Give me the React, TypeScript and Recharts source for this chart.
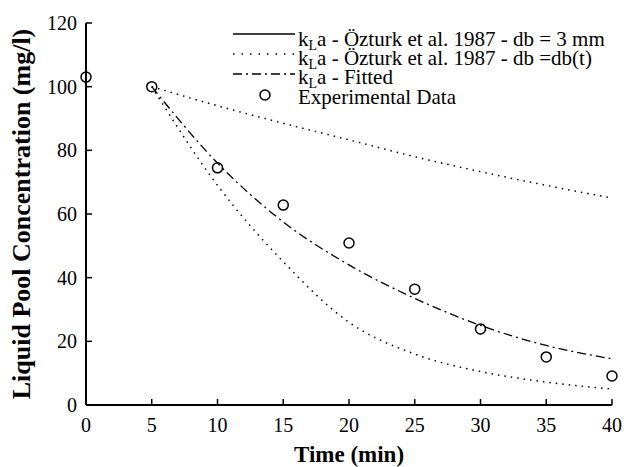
import React from "react";
import { ComposedChart, Line, Scatter, XAxis, YAxis, Legend } from "recharts";

const times = [0, 5, 10, 15, 20, 25, 30, 35, 40];
const experimental = [103, 100, 74.5, 62.8, 50.9, 36.4, 23.9, 15.1, 9.1];
const ozturk3mm = [null, 100, 94, 88.5, 83.3, 78, 73.3, 69, 65];
const ozturkDbt = [null, 100, 69, 45, 26, 16, 10.5, 7.2, 5];
const fitted = [null, 100, 76, 57.5, 44, 33.5, 25, 18.7, 14.5];

const xTicks = [0, 5, 10, 15, 20, 25, 30, 35, 40];
const yTicks = [0, 20, 40, 60, 80, 100, 120];

const legendLabels = [
  "a - Özturk et al. 1987 - db = 3 mm",
  "a - Özturk et al. 1987 - db =db(t)",
  "a - Fitted",
  "Experimental Data",
];

const data = times.map((t, i) => ({
  t,
  exp: experimental[i],
  mm3: ozturk3mm[i],
  dbt: ozturkDbt[i],
  fit: fitted[i],
}));

const serif = "'Liberation Serif', 'Times New Roman', serif";
const txt = { fontFamily: serif, fill: "#000" };
const DOTTED = "1.5 5";
const DASHDOT = "9 4 2 4";

const YTick = (props: any) => {
  const { x, y, payload } = props;
  return (
    <g>
      <line x1={x + 8} x2={x + 14} y1={y} y2={y} stroke="#000" strokeWidth={1.5} />
      <text x={x - 1} y={y + 7} textAnchor="end" style={{ ...txt, fontSize: 20 }}>
        {payload.value}
      </text>
    </g>
  );
};

const XTick = (props: any) => {
  const { x, y, payload } = props;
  return (
    <g>
      <line x1={x} x2={x} y1={y} y2={y - 6} stroke="#000" strokeWidth={1.5} />
      <text x={x} y={y + 27} textAnchor="middle" style={{ ...txt, fontSize: 20 }}>
        {payload.value}
      </text>
    </g>
  );
};

const Kla = ({ x, y, rest }: { x: number; y: number; rest: string }) => (
  <text x={x} y={y} style={{ ...txt, fontSize: 21 }}>
    <tspan>k</tspan>
    <tspan style={{ fontSize: 14 }} dy={4}>L</tspan>
    <tspan dy={-4}>{rest}</tspan>
  </text>
);

const LegendBox = () => (
  <svg width={400} height={100} style={{ display: "block", overflow: "visible" }}>
    <line x1={5} x2={67} y1={14} y2={14} stroke="#000" strokeWidth={1.3} />
    <Kla x={70} y={26} rest={legendLabels[0]} />
    <line x1={5} x2={67} y1={34} y2={34} stroke="#000" strokeWidth={1.5} strokeDasharray="1.5 7" />
    <Kla x={70} y={45} rest={legendLabels[1]} />
    <line x1={5} x2={67} y1={54} y2={54} stroke="#000" strokeWidth={1.3} strokeDasharray={DASHDOT} />
    <Kla x={70} y={64} rest={legendLabels[2]} />
    <circle cx={37} cy={75} r={5} fill="none" stroke="#000" strokeWidth={1.5} />
    <text x={70} y={84} style={{ ...txt, fontSize: 21 }}>{legendLabels[3]}</text>
  </svg>
);

const Ring = (props: any) => {
  const { cx, cy } = props;
  return <circle cx={cx} cy={cy} r={5} fill="none" stroke="#000" strokeWidth={1.5} />;
};

export default function App() {
  return (
    <div style={{ position: "absolute", left: 0, top: 0, background: "#fff" }}>
      <ComposedChart width={627} height={467} data={data} margin={{ top: 23, right: 15, bottom: 0, left: 0 }}>
        <XAxis
          dataKey="t"
          type="number"
          domain={[0, 40]}
          ticks={xTicks}
          height={62}
          tickLine={false}
          tickSize={0}
          tickMargin={0}
          tick={<XTick />}
          axisLine={{ stroke: "#000", strokeWidth: 2 }}
          label={{
            value: "Time (min)",
            position: "insideBottom",
            offset: 5,
            style: { ...txt, fontSize: 23, fontWeight: "bold" },
          }}
        />
        <XAxis xAxisId="top" orientation="top" dataKey="t" type="number" domain={[0, 40]} height={0} tick={false} tickLine={false} axisLine={{ stroke: "#000", strokeWidth: 2 }} />
        <YAxis
          type="number"
          domain={[0, 120]}
          ticks={yTicks}
          width={86}
          tickLine={false}
          tickSize={0}
          tickMargin={8}
          tick={<YTick />}
          axisLine={{ stroke: "#000", strokeWidth: 2 }}
          label={{
            value: "Liquid Pool Concentration (mg/l)",
            angle: -90,
            position: "insideLeft",
            offset: 21,
            style: { ...txt, fontSize: 26, fontWeight: "bold", textAnchor: "middle" },
          }}
        />
        <YAxis yAxisId="right" orientation="right" type="number" domain={[0, 120]} width={0} tick={false} tickLine={false} axisLine={{ stroke: "#000", strokeWidth: 2 }} />
        <Line type="monotone" dataKey="mm3" stroke="#000" strokeWidth={1.5} strokeDasharray={DOTTED} dot={false} isAnimationActive={false} />
        <Line type="monotone" dataKey="dbt" stroke="#000" strokeWidth={1.5} strokeDasharray={DOTTED} dot={false} isAnimationActive={false} />
        <Line type="monotone" dataKey="fit" stroke="#000" strokeWidth={1.3} strokeDasharray={DASHDOT} dot={false} isAnimationActive={false} />
        <Scatter dataKey="exp" shape={<Ring />} isAnimationActive={false} />
        <Legend
          content={<LegendBox />}
          layout="vertical"
          align="center"
          verticalAlign="middle"
          wrapperStyle={{ left: 228, top: 20, width: 400, height: 100 }}
        />
      </ComposedChart>
    </div>
  );
}
